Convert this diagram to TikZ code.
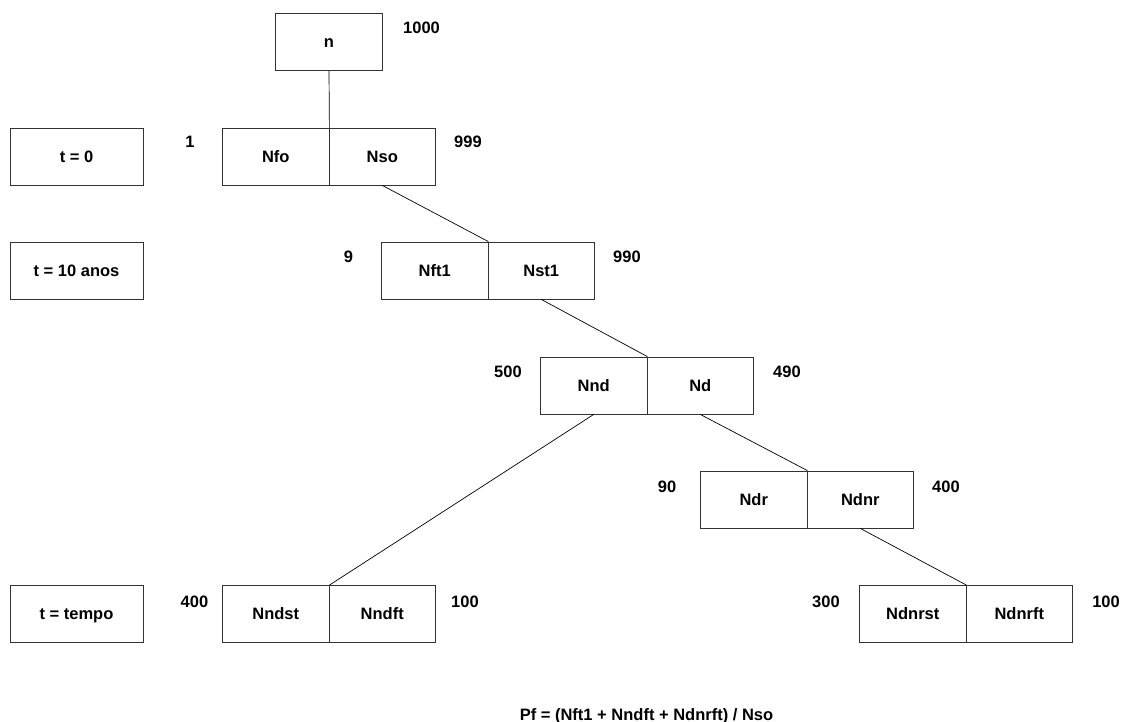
\documentclass[tikz,border=0pt]{standalone}
\usepackage{fontspec}
\setmainfont{Liberation Sans}
\begin{document}
\begin{tikzpicture}[x=1pt,y=-1pt,
  font=\fontsize{16.5}{19}\selectfont\bfseries,
  box/.style={draw=black!80, line width=0.8pt, minimum width=106.5pt, minimum height=57pt,
    inner sep=0pt, text height=11.8pt, text depth=0pt, anchor=center},
  tbox/.style={box, minimum width=133pt},
  num/.style={inner sep=0pt, anchor=base},
  link/.style={draw=black, line width=0.7pt}]
\useasboundingbox (0,0) rectangle (1121,722);
% top node
\node[box] (n) at (329,42) {n};
% time labels
\node[tbox] (t0) at (76.5,156.5) {t = 0};
\node[tbox] (t10) at (76.5,270.5) {t = 10 anos};
\node[tbox] (tt) at (76.5,614) {t = tempo};
% pairs
\node[box] (nfo) at (275.75,156.5) {Nfo};
\node[box] (nso) at (382.25,156.5) {Nso};
\node[box] (nft1) at (434.75,270.5) {Nft1};
\node[box] (nst1) at (541.25,270.5) {Nst1};
\node[box] (nnd) at (593.75,385.5) {Nnd};
\node[box] (nd) at (700.25,385.5) {Nd};
\node[box] (ndr) at (753.75,499.5) {Ndr};
\node[box] (ndnr) at (860.25,499.5) {Ndnr};
\node[box] (nndst) at (275.75,614) {Nndst};
\node[box] (nndft) at (382.25,614) {Nndft};
\node[box] (ndnrst) at (912.75,614) {Ndnrst};
\node[box] (ndnrft) at (1019.25,614) {Ndnrft};
% numbers
\node[num] (v1000) at (421.5,34) {1000};
\node[num] (v1) at (190,148) {1};
\node[num] (v999) at (468,148) {999};
\node[num] (v9) at (348.5,262) {9};
\node[num] (v990) at (627,262) {990};
\node[num] (v500) at (508,377) {500};
\node[num] (v490) at (787,377) {490};
\node[num] (v90) at (667,492) {90};
\node[num] (v400a) at (946,492) {400};
\node[num] (v400b) at (194.5,607) {400};
\node[num] (v100a) at (465,607) {100};
\node[num] (v300) at (826,607) {300};
\node[num] (v100b) at (1106,607) {100};
% formula
\node[num] (pf) at (646.5,720) {Pf = (Nft1 + Nndft + Ndnrft) / Nso};
% connectors
\draw[link] (n.south) -- (nfo.north east);
\draw[link] (nso.south) -- (nft1.north east);
\draw[link] (nst1.south) -- (nnd.north east);
\draw[link] (nnd.south) -- (nndst.north east);
\draw[link] (nd.south) -- (ndr.north east);
\draw[link] (ndnr.south) -- (ndnrst.north east);
\end{tikzpicture}
\end{document}
